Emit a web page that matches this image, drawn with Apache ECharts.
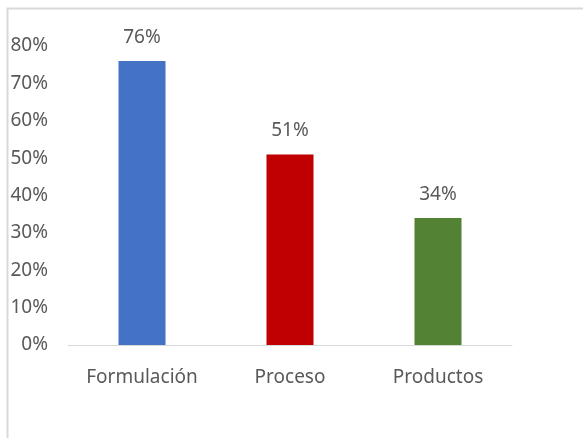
<!DOCTYPE html>
<html>
<head>
<meta charset="utf-8">
<style>
  html, body { margin: 0; padding: 0; background: #ffffff; }
  #chart { width: 583px; height: 438px; }
</style>
<script src="https://cdn.jsdelivr.net/npm/echarts@6/dist/echarts.min.js"></script>
</head>
<body>
<div id="chart"></div>
<script>
// Categories and their percentage values
const categories = ['Formulación', 'Proceso', 'Productos'];
const values = [76, 51, 34];
const barColors = ['#4472C4', '#C00000', '#548235'];
const yTicks = [0, 10, 20, 30, 40, 50, 60, 70, 80];

const textColor = '#595959';
const fontFamily = '"Noto Sans", "Open Sans", sans-serif';

const chart = echarts.init(document.getElementById('chart'), null, { renderer: 'canvas' });

chart.setOption({
  animation: false,
  backgroundColor: '#ffffff',
  graphic: [{
    type: 'rect',
    shape: { x: 7.5, y: 8.5, width: 800, height: 800 },
    style: { fill: 'none', stroke: '#d9d9d9', lineWidth: 2 },
    silent: true
  }],
  grid: { left: 68, right: 71, top: 46, bottom: 93, containLabel: false },
  xAxis: {
    type: 'category',
    data: categories,
    axisLine: { show: true, lineStyle: { color: '#d9d9d9', width: 1 } },
    axisTick: { show: false },
    axisLabel: { color: textColor, fontSize: 19, fontFamily: fontFamily, margin: 23 }
  },
  yAxis: {
    type: 'value',
    min: yTicks[0],
    max: yTicks[yTicks.length - 1],
    interval: 10,
    splitLine: { show: false },
    axisLine: { show: false },
    axisTick: { show: false },
    axisLabel: {
      color: textColor, fontSize: 19, fontFamily: fontFamily, margin: 20,
      formatter: v => v + '%'
    }
  },
  series: [{
    type: 'bar',
    barWidth: 47,
    data: values.map((v, i) => ({ value: v, itemStyle: { color: barColors[i] } })),
    label: {
      show: true,
      position: 'top',
      distance: 14,
      color: textColor,
      fontSize: 19,
      fontFamily: fontFamily,
      formatter: p => p.value + '%'
    }
  }]
});
</script>
</body>
</html>
